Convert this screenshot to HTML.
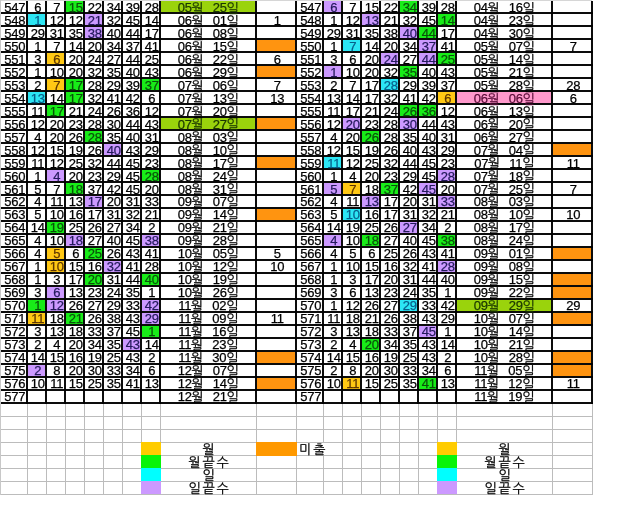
<!DOCTYPE html>
<html lang="ko"><head><meta charset="utf-8"><title>로또 당첨번호 분석</title>
<style>
html,body{margin:0;padding:0;background:#fff}
body{width:640px;height:512px;overflow:hidden;position:relative}
svg{position:absolute;left:0;top:0}
#t{position:absolute;left:0;top:0;width:640px;height:10px;transform-origin:0 0}
.n{position:absolute;height:13px;line-height:13px;font-family:"Liberation Sans","NanumGothic","Noto Sans CJK KR",sans-serif;font-size:13px;color:#000;text-align:center;white-space:nowrap;overflow:visible;letter-spacing:-0.3px;-webkit-text-stroke:0.25px}
.d{word-spacing:3.8px}
.d span{font-size:13px;letter-spacing:1.8px;position:relative;top:0.8px}
.k{font-size:13px;letter-spacing:1.8px}
</style></head><body>
<svg width="640" height="512" viewBox="0 0 640 512">
<rect x="65.8" y="0.8" width="17.4" height="11.4" fill="#18ec18"/>
<rect x="160.8" y="0.8" width="94.4" height="11.4" fill="#9ad30c"/>
<rect x="27.8" y="13.8" width="17.4" height="11.4" fill="#2ce6f4"/>
<rect x="84.8" y="13.8" width="17.4" height="11.4" fill="#cc99ff"/>
<rect x="84.8" y="26.8" width="17.4" height="11.4" fill="#cc99ff"/>
<rect x="256.8" y="39.8" width="38.4" height="11.4" fill="#ff9410"/>
<rect x="46.8" y="52.8" width="17.4" height="11.4" fill="#ffc814"/>
<rect x="256.8" y="65.8" width="38.4" height="11.4" fill="#ff9410"/>
<rect x="46.8" y="78.8" width="17.4" height="11.4" fill="#ffc814"/>
<rect x="65.8" y="78.8" width="17.4" height="11.4" fill="#18ec18"/>
<rect x="141.8" y="78.8" width="17.4" height="11.4" fill="#18ec18"/>
<rect x="27.8" y="91.8" width="17.4" height="11.4" fill="#2ce6f4"/>
<rect x="65.8" y="91.8" width="17.4" height="11.4" fill="#18ec18"/>
<rect x="46.8" y="104.8" width="17.4" height="11.4" fill="#18ec18"/>
<rect x="160.8" y="117.8" width="94.4" height="11.4" fill="#9ad30c"/>
<rect x="256.8" y="117.8" width="38.4" height="11.4" fill="#ff9410"/>
<rect x="84.8" y="130.8" width="17.4" height="11.4" fill="#18ec18"/>
<rect x="103.8" y="143.8" width="17.4" height="11.4" fill="#cc99ff"/>
<rect x="256.8" y="156.8" width="38.4" height="11.4" fill="#ff9410"/>
<rect x="46.8" y="169.8" width="17.4" height="11.4" fill="#cc99ff"/>
<rect x="141.8" y="169.8" width="17.4" height="11.4" fill="#18ec18"/>
<rect x="65.8" y="182.8" width="17.4" height="11.4" fill="#18ec18"/>
<rect x="84.8" y="195.8" width="17.4" height="11.4" fill="#cc99ff"/>
<rect x="256.8" y="208.8" width="38.4" height="11.4" fill="#ff9410"/>
<rect x="46.8" y="221.8" width="17.4" height="11.4" fill="#18ec18"/>
<rect x="65.8" y="234.8" width="17.4" height="11.4" fill="#cc99ff"/>
<rect x="141.8" y="234.8" width="17.4" height="11.4" fill="#cc99ff"/>
<rect x="46.8" y="247.8" width="17.4" height="11.4" fill="#ffc814"/>
<rect x="84.8" y="247.8" width="17.4" height="11.4" fill="#18ec18"/>
<rect x="46.8" y="260.8" width="17.4" height="11.4" fill="#ffc814"/>
<rect x="103.8" y="260.8" width="17.4" height="11.4" fill="#cc99ff"/>
<rect x="84.8" y="273.8" width="17.4" height="11.4" fill="#18ec18"/>
<rect x="141.8" y="273.8" width="17.4" height="11.4" fill="#18ec18"/>
<rect x="46.8" y="286.8" width="17.4" height="11.4" fill="#cc99ff"/>
<rect x="27.8" y="299.8" width="17.4" height="11.4" fill="#18ec18"/>
<rect x="46.8" y="299.8" width="17.4" height="11.4" fill="#cc99ff"/>
<rect x="141.8" y="299.8" width="17.4" height="11.4" fill="#cc99ff"/>
<rect x="27.8" y="312.8" width="17.4" height="11.4" fill="#ffc814"/>
<rect x="65.8" y="312.8" width="17.4" height="11.4" fill="#18ec18"/>
<rect x="141.8" y="312.8" width="17.4" height="11.4" fill="#cc99ff"/>
<rect x="141.8" y="325.8" width="17.4" height="11.4" fill="#18ec18"/>
<rect x="122.8" y="338.8" width="17.4" height="11.4" fill="#cc99ff"/>
<rect x="256.8" y="351.8" width="38.4" height="11.4" fill="#ff9410"/>
<rect x="27.8" y="364.8" width="17.4" height="11.4" fill="#cc99ff"/>
<rect x="256.8" y="377.8" width="38.4" height="11.4" fill="#ff9410"/>
<rect x="323.8" y="0.8" width="17.4" height="11.4" fill="#cc99ff"/>
<rect x="399.8" y="0.8" width="17.4" height="11.4" fill="#18ec18"/>
<rect x="361.8" y="13.8" width="17.4" height="11.4" fill="#cc99ff"/>
<rect x="437.8" y="13.8" width="17.4" height="11.4" fill="#18ec18"/>
<rect x="399.8" y="26.8" width="17.4" height="11.4" fill="#cc99ff"/>
<rect x="418.8" y="26.8" width="17.4" height="11.4" fill="#18ec18"/>
<rect x="342.8" y="39.8" width="17.4" height="11.4" fill="#2ce6f4"/>
<rect x="418.8" y="39.8" width="17.4" height="11.4" fill="#cc99ff"/>
<rect x="380.8" y="52.8" width="17.4" height="11.4" fill="#cc99ff"/>
<rect x="418.8" y="52.8" width="17.4" height="11.4" fill="#cc99ff"/>
<rect x="437.8" y="52.8" width="17.4" height="11.4" fill="#18ec18"/>
<rect x="323.8" y="65.8" width="17.4" height="11.4" fill="#cc99ff"/>
<rect x="399.8" y="65.8" width="17.4" height="11.4" fill="#18ec18"/>
<rect x="380.8" y="78.8" width="17.4" height="11.4" fill="#2ce6f4"/>
<rect x="437.8" y="91.8" width="17.4" height="11.4" fill="#ffc814"/>
<rect x="456.8" y="91.8" width="94.4" height="11.4" fill="#ff99cc"/>
<rect x="399.8" y="104.8" width="17.4" height="11.4" fill="#18ec18"/>
<rect x="418.8" y="104.8" width="17.4" height="11.4" fill="#18ec18"/>
<rect x="342.8" y="117.8" width="17.4" height="11.4" fill="#cc99ff"/>
<rect x="399.8" y="117.8" width="17.4" height="11.4" fill="#cc99ff"/>
<rect x="361.8" y="130.8" width="17.4" height="11.4" fill="#18ec18"/>
<rect x="552.8" y="143.8" width="38.4" height="11.4" fill="#ff9410"/>
<rect x="323.8" y="156.8" width="17.4" height="11.4" fill="#2ce6f4"/>
<rect x="437.8" y="169.8" width="17.4" height="11.4" fill="#cc99ff"/>
<rect x="323.8" y="182.8" width="17.4" height="11.4" fill="#cc99ff"/>
<rect x="342.8" y="182.8" width="17.4" height="11.4" fill="#ffc814"/>
<rect x="380.8" y="182.8" width="17.4" height="11.4" fill="#18ec18"/>
<rect x="418.8" y="182.8" width="17.4" height="11.4" fill="#cc99ff"/>
<rect x="361.8" y="195.8" width="17.4" height="11.4" fill="#cc99ff"/>
<rect x="437.8" y="195.8" width="17.4" height="11.4" fill="#cc99ff"/>
<rect x="342.8" y="208.8" width="17.4" height="11.4" fill="#2ce6f4"/>
<rect x="399.8" y="221.8" width="17.4" height="11.4" fill="#cc99ff"/>
<rect x="323.8" y="234.8" width="17.4" height="11.4" fill="#cc99ff"/>
<rect x="361.8" y="234.8" width="17.4" height="11.4" fill="#18ec18"/>
<rect x="437.8" y="234.8" width="17.4" height="11.4" fill="#18ec18"/>
<rect x="552.8" y="247.8" width="38.4" height="11.4" fill="#ff9410"/>
<rect x="437.8" y="260.8" width="17.4" height="11.4" fill="#cc99ff"/>
<rect x="552.8" y="273.8" width="38.4" height="11.4" fill="#ff9410"/>
<rect x="552.8" y="286.8" width="38.4" height="11.4" fill="#ff9410"/>
<rect x="399.8" y="299.8" width="17.4" height="11.4" fill="#2ce6f4"/>
<rect x="456.8" y="299.8" width="94.4" height="11.4" fill="#9ad30c"/>
<rect x="552.8" y="312.8" width="38.4" height="11.4" fill="#ff9410"/>
<rect x="418.8" y="325.8" width="17.4" height="11.4" fill="#cc99ff"/>
<rect x="361.8" y="338.8" width="17.4" height="11.4" fill="#18ec18"/>
<rect x="552.8" y="351.8" width="38.4" height="11.4" fill="#ff9410"/>
<rect x="552.8" y="364.8" width="38.4" height="11.4" fill="#ff9410"/>
<rect x="342.8" y="377.8" width="17.4" height="11.4" fill="#ffc814"/>
<rect x="418.8" y="377.8" width="17.4" height="11.4" fill="#18ec18"/>
<rect x="0" y="416" width="593" height="1" fill="#bcbcbc"/>
<rect x="0" y="429" width="593" height="1" fill="#bcbcbc"/>
<rect x="0" y="442" width="593" height="1" fill="#bcbcbc"/>
<rect x="0" y="455" width="593" height="1" fill="#bcbcbc"/>
<rect x="0" y="468" width="593" height="1" fill="#bcbcbc"/>
<rect x="0" y="481" width="593" height="1" fill="#bcbcbc"/>
<rect x="0" y="494" width="593" height="1" fill="#bcbcbc"/>
<rect x="0" y="404" width="1" height="90" fill="#bcbcbc"/>
<rect x="27" y="404" width="1" height="90" fill="#bcbcbc"/>
<rect x="46" y="404" width="1" height="90" fill="#bcbcbc"/>
<rect x="65" y="404" width="1" height="90" fill="#bcbcbc"/>
<rect x="84" y="404" width="1" height="90" fill="#bcbcbc"/>
<rect x="103" y="404" width="1" height="90" fill="#bcbcbc"/>
<rect x="122" y="404" width="1" height="90" fill="#bcbcbc"/>
<rect x="141" y="404" width="1" height="90" fill="#bcbcbc"/>
<rect x="160" y="404" width="1" height="90" fill="#bcbcbc"/>
<rect x="256" y="404" width="1" height="90" fill="#bcbcbc"/>
<rect x="296" y="404" width="1" height="90" fill="#bcbcbc"/>
<rect x="323" y="404" width="1" height="90" fill="#bcbcbc"/>
<rect x="342" y="404" width="1" height="90" fill="#bcbcbc"/>
<rect x="361" y="404" width="1" height="90" fill="#bcbcbc"/>
<rect x="380" y="404" width="1" height="90" fill="#bcbcbc"/>
<rect x="399" y="404" width="1" height="90" fill="#bcbcbc"/>
<rect x="418" y="404" width="1" height="90" fill="#bcbcbc"/>
<rect x="437" y="404" width="1" height="90" fill="#bcbcbc"/>
<rect x="456" y="404" width="1" height="90" fill="#bcbcbc"/>
<rect x="552" y="404" width="1" height="90" fill="#bcbcbc"/>
<rect x="592" y="404" width="1" height="90" fill="#bcbcbc"/>
<rect x="323" y="443" width="1" height="12" fill="#fff"/>
<rect x="141" y="442" width="20" height="13" fill="#ffcc00"/>
<rect x="141" y="455" width="20" height="13" fill="#08f408"/>
<rect x="141" y="468" width="20" height="13" fill="#00ffff"/>
<rect x="141" y="481" width="20" height="13" fill="#cc99ff"/>
<rect x="437" y="442" width="20" height="13" fill="#ffcc00"/>
<rect x="437" y="455" width="20" height="13" fill="#08f408"/>
<rect x="437" y="468" width="20" height="13" fill="#00ffff"/>
<rect x="437" y="481" width="20" height="13" fill="#cc99ff"/>
<rect x="256" y="442" width="41" height="14" fill="#ff9900"/>
<rect x="1" y="12.05" width="591.95" height="1.9" fill="#000"/>
<rect x="1" y="25.05" width="591.95" height="1.9" fill="#000"/>
<rect x="1" y="38.05" width="591.95" height="1.9" fill="#000"/>
<rect x="1" y="51.05" width="591.95" height="1.9" fill="#000"/>
<rect x="1" y="64.05" width="591.95" height="1.9" fill="#000"/>
<rect x="1" y="77.05" width="591.95" height="1.9" fill="#000"/>
<rect x="1" y="90.05" width="591.95" height="1.9" fill="#000"/>
<rect x="1" y="103.05" width="591.95" height="1.9" fill="#000"/>
<rect x="1" y="116.05" width="591.95" height="1.9" fill="#000"/>
<rect x="1" y="129.05" width="591.95" height="1.9" fill="#000"/>
<rect x="1" y="142.05" width="591.95" height="1.9" fill="#000"/>
<rect x="1" y="155.05" width="591.95" height="1.9" fill="#000"/>
<rect x="1" y="168.05" width="591.95" height="1.9" fill="#000"/>
<rect x="1" y="181.05" width="591.95" height="1.9" fill="#000"/>
<rect x="1" y="194.05" width="591.95" height="1.9" fill="#000"/>
<rect x="1" y="207.05" width="591.95" height="1.9" fill="#000"/>
<rect x="1" y="220.05" width="591.95" height="1.9" fill="#000"/>
<rect x="1" y="233.05" width="591.95" height="1.9" fill="#000"/>
<rect x="1" y="246.05" width="591.95" height="1.9" fill="#000"/>
<rect x="1" y="259.05" width="591.95" height="1.9" fill="#000"/>
<rect x="1" y="272.05" width="591.95" height="1.9" fill="#000"/>
<rect x="1" y="285.05" width="591.95" height="1.9" fill="#000"/>
<rect x="1" y="298.05" width="591.95" height="1.9" fill="#000"/>
<rect x="1" y="311.05" width="591.95" height="1.9" fill="#000"/>
<rect x="1" y="324.05" width="591.95" height="1.9" fill="#000"/>
<rect x="1" y="337.05" width="591.95" height="1.9" fill="#000"/>
<rect x="1" y="350.05" width="591.95" height="1.9" fill="#000"/>
<rect x="1" y="363.05" width="591.95" height="1.9" fill="#000"/>
<rect x="1" y="376.05" width="591.95" height="1.9" fill="#000"/>
<rect x="1" y="389.05" width="591.95" height="1.9" fill="#000"/>
<rect x="1" y="402.05" width="591.95" height="1.9" fill="#000"/>
<rect x="26.05" y="1" width="1.9" height="402.95" fill="#000"/>
<rect x="45.05" y="1" width="1.9" height="402.95" fill="#000"/>
<rect x="64.05" y="1" width="1.9" height="402.95" fill="#000"/>
<rect x="83.05" y="1" width="1.9" height="402.95" fill="#000"/>
<rect x="102.05" y="1" width="1.9" height="402.95" fill="#000"/>
<rect x="121.05" y="1" width="1.9" height="402.95" fill="#000"/>
<rect x="140.05" y="1" width="1.9" height="402.95" fill="#000"/>
<rect x="159.05" y="1" width="1.9" height="402.95" fill="#000"/>
<rect x="255.05" y="1" width="1.9" height="402.95" fill="#000"/>
<rect x="295.05" y="1" width="1.9" height="402.95" fill="#000"/>
<rect x="322.05" y="1" width="1.9" height="402.95" fill="#000"/>
<rect x="341.05" y="1" width="1.9" height="402.95" fill="#000"/>
<rect x="360.05" y="1" width="1.9" height="402.95" fill="#000"/>
<rect x="379.05" y="1" width="1.9" height="402.95" fill="#000"/>
<rect x="398.05" y="1" width="1.9" height="402.95" fill="#000"/>
<rect x="417.05" y="1" width="1.9" height="402.95" fill="#000"/>
<rect x="436.05" y="1" width="1.9" height="402.95" fill="#000"/>
<rect x="455.05" y="1" width="1.9" height="402.95" fill="#000"/>
<rect x="551.05" y="1" width="1.9" height="402.95" fill="#000"/>
<rect x="591.05" y="1" width="1.9" height="402.95" fill="#000"/>
<rect x="0" y="0" width="592" height="1" fill="#d6d6d6"/>
<rect x="0" y="0" width="1" height="495" fill="#c8c8c8"/>
</svg>
<div id="t">
<div class="n" style="left:1.7px;width:26px;top:1.00px">547</div>
<div class="n" style="left:28.7px;width:18px;top:1.00px">6</div>
<div class="n" style="left:47.7px;width:18px;top:1.00px">7</div>
<div class="n" style="left:66.7px;width:18px;color:#0a520a;top:1.00px">15</div>
<div class="n" style="left:85.7px;width:18px;top:1.00px">22</div>
<div class="n" style="left:104.7px;width:18px;top:1.00px">34</div>
<div class="n" style="left:123.7px;width:18px;top:1.00px">39</div>
<div class="n" style="left:142.7px;width:18px;top:1.00px">28</div>
<div class="n d" style="left:161.7px;width:95px;color:#1c3800;top:1.00px">05<span>월</span> 25<span>일</span></div>
<div class="n" style="left:1.7px;width:26px;top:13.96px">548</div>
<div class="n" style="left:28.7px;width:18px;color:#085f8a;top:13.96px">1</div>
<div class="n" style="left:47.7px;width:18px;top:13.96px">12</div>
<div class="n" style="left:66.7px;width:18px;top:13.96px">12</div>
<div class="n" style="left:85.7px;width:18px;color:#241a5c;top:13.96px">21</div>
<div class="n" style="left:104.7px;width:18px;top:13.96px">32</div>
<div class="n" style="left:123.7px;width:18px;top:13.96px">45</div>
<div class="n" style="left:142.7px;width:18px;top:13.96px">14</div>
<div class="n d" style="left:161.7px;width:95px;top:13.96px">06<span>월</span> 01<span>일</span></div>
<div class="n" style="left:257.7px;width:39px;top:13.96px">1</div>
<div class="n" style="left:1.7px;width:26px;top:26.93px">549</div>
<div class="n" style="left:28.7px;width:18px;top:26.93px">29</div>
<div class="n" style="left:47.7px;width:18px;top:26.93px">31</div>
<div class="n" style="left:66.7px;width:18px;top:26.93px">35</div>
<div class="n" style="left:85.7px;width:18px;color:#241a5c;top:26.93px">38</div>
<div class="n" style="left:104.7px;width:18px;top:26.93px">40</div>
<div class="n" style="left:123.7px;width:18px;top:26.93px">44</div>
<div class="n" style="left:142.7px;width:18px;top:26.93px">17</div>
<div class="n d" style="left:161.7px;width:95px;top:26.93px">06<span>월</span> 08<span>일</span></div>
<div class="n" style="left:1.7px;width:26px;top:39.90px">550</div>
<div class="n" style="left:28.7px;width:18px;top:39.90px">1</div>
<div class="n" style="left:47.7px;width:18px;top:39.90px">7</div>
<div class="n" style="left:66.7px;width:18px;top:39.90px">14</div>
<div class="n" style="left:85.7px;width:18px;top:39.90px">20</div>
<div class="n" style="left:104.7px;width:18px;top:39.90px">34</div>
<div class="n" style="left:123.7px;width:18px;top:39.90px">37</div>
<div class="n" style="left:142.7px;width:18px;top:39.90px">41</div>
<div class="n d" style="left:161.7px;width:95px;top:39.90px">06<span>월</span> 15<span>일</span></div>
<div class="n" style="left:1.7px;width:26px;top:52.86px">551</div>
<div class="n" style="left:28.7px;width:18px;top:52.86px">3</div>
<div class="n" style="left:47.7px;width:18px;color:#5e3600;top:52.86px">6</div>
<div class="n" style="left:66.7px;width:18px;top:52.86px">20</div>
<div class="n" style="left:85.7px;width:18px;top:52.86px">24</div>
<div class="n" style="left:104.7px;width:18px;top:52.86px">27</div>
<div class="n" style="left:123.7px;width:18px;top:52.86px">44</div>
<div class="n" style="left:142.7px;width:18px;top:52.86px">25</div>
<div class="n d" style="left:161.7px;width:95px;top:52.86px">06<span>월</span> 22<span>일</span></div>
<div class="n" style="left:257.7px;width:39px;top:52.86px">6</div>
<div class="n" style="left:1.7px;width:26px;top:65.83px">552</div>
<div class="n" style="left:28.7px;width:18px;top:65.83px">1</div>
<div class="n" style="left:47.7px;width:18px;top:65.83px">10</div>
<div class="n" style="left:66.7px;width:18px;top:65.83px">20</div>
<div class="n" style="left:85.7px;width:18px;top:65.83px">32</div>
<div class="n" style="left:104.7px;width:18px;top:65.83px">35</div>
<div class="n" style="left:123.7px;width:18px;top:65.83px">40</div>
<div class="n" style="left:142.7px;width:18px;top:65.83px">43</div>
<div class="n d" style="left:161.7px;width:95px;top:65.83px">06<span>월</span> 29<span>일</span></div>
<div class="n" style="left:1.7px;width:26px;top:78.79px">553</div>
<div class="n" style="left:28.7px;width:18px;top:78.79px">2</div>
<div class="n" style="left:47.7px;width:18px;color:#5e3600;top:78.79px">7</div>
<div class="n" style="left:66.7px;width:18px;color:#0a520a;top:78.79px">17</div>
<div class="n" style="left:85.7px;width:18px;top:78.79px">28</div>
<div class="n" style="left:104.7px;width:18px;top:78.79px">29</div>
<div class="n" style="left:123.7px;width:18px;top:78.79px">39</div>
<div class="n" style="left:142.7px;width:18px;color:#0a520a;top:78.79px">37</div>
<div class="n d" style="left:161.7px;width:95px;top:78.79px">07<span>월</span> 06<span>일</span></div>
<div class="n" style="left:257.7px;width:39px;top:78.79px">7</div>
<div class="n" style="left:1.7px;width:26px;top:91.75px">554</div>
<div class="n" style="left:28.7px;width:18px;color:#085f8a;top:91.75px">13</div>
<div class="n" style="left:47.7px;width:18px;top:91.75px">14</div>
<div class="n" style="left:66.7px;width:18px;color:#0a520a;top:91.75px">17</div>
<div class="n" style="left:85.7px;width:18px;top:91.75px">32</div>
<div class="n" style="left:104.7px;width:18px;top:91.75px">41</div>
<div class="n" style="left:123.7px;width:18px;top:91.75px">42</div>
<div class="n" style="left:142.7px;width:18px;top:91.75px">6</div>
<div class="n d" style="left:161.7px;width:95px;top:91.75px">07<span>월</span> 13<span>일</span></div>
<div class="n" style="left:257.7px;width:39px;top:91.75px">13</div>
<div class="n" style="left:1.7px;width:26px;top:104.72px">555</div>
<div class="n" style="left:28.7px;width:18px;top:104.72px">11</div>
<div class="n" style="left:47.7px;width:18px;color:#0a520a;top:104.72px">17</div>
<div class="n" style="left:66.7px;width:18px;top:104.72px">21</div>
<div class="n" style="left:85.7px;width:18px;top:104.72px">24</div>
<div class="n" style="left:104.7px;width:18px;top:104.72px">26</div>
<div class="n" style="left:123.7px;width:18px;top:104.72px">36</div>
<div class="n" style="left:142.7px;width:18px;top:104.72px">12</div>
<div class="n d" style="left:161.7px;width:95px;top:104.72px">07<span>월</span> 20<span>일</span></div>
<div class="n" style="left:1.7px;width:26px;top:117.69px">556</div>
<div class="n" style="left:28.7px;width:18px;top:117.69px">12</div>
<div class="n" style="left:47.7px;width:18px;top:117.69px">20</div>
<div class="n" style="left:66.7px;width:18px;top:117.69px">23</div>
<div class="n" style="left:85.7px;width:18px;top:117.69px">28</div>
<div class="n" style="left:104.7px;width:18px;top:117.69px">30</div>
<div class="n" style="left:123.7px;width:18px;top:117.69px">44</div>
<div class="n" style="left:142.7px;width:18px;top:117.69px">43</div>
<div class="n d" style="left:161.7px;width:95px;color:#1c3800;top:117.69px">07<span>월</span> 27<span>일</span></div>
<div class="n" style="left:1.7px;width:26px;top:130.65px">557</div>
<div class="n" style="left:28.7px;width:18px;top:130.65px">4</div>
<div class="n" style="left:47.7px;width:18px;top:130.65px">20</div>
<div class="n" style="left:66.7px;width:18px;top:130.65px">26</div>
<div class="n" style="left:85.7px;width:18px;color:#0a520a;top:130.65px">28</div>
<div class="n" style="left:104.7px;width:18px;top:130.65px">35</div>
<div class="n" style="left:123.7px;width:18px;top:130.65px">40</div>
<div class="n" style="left:142.7px;width:18px;top:130.65px">31</div>
<div class="n d" style="left:161.7px;width:95px;top:130.65px">08<span>월</span> 03<span>일</span></div>
<div class="n" style="left:1.7px;width:26px;top:143.62px">558</div>
<div class="n" style="left:28.7px;width:18px;top:143.62px">12</div>
<div class="n" style="left:47.7px;width:18px;top:143.62px">15</div>
<div class="n" style="left:66.7px;width:18px;top:143.62px">19</div>
<div class="n" style="left:85.7px;width:18px;top:143.62px">26</div>
<div class="n" style="left:104.7px;width:18px;color:#241a5c;top:143.62px">40</div>
<div class="n" style="left:123.7px;width:18px;top:143.62px">43</div>
<div class="n" style="left:142.7px;width:18px;top:143.62px">29</div>
<div class="n d" style="left:161.7px;width:95px;top:143.62px">08<span>월</span> 10<span>일</span></div>
<div class="n" style="left:1.7px;width:26px;top:156.58px">559</div>
<div class="n" style="left:28.7px;width:18px;top:156.58px">11</div>
<div class="n" style="left:47.7px;width:18px;top:156.58px">12</div>
<div class="n" style="left:66.7px;width:18px;top:156.58px">25</div>
<div class="n" style="left:85.7px;width:18px;top:156.58px">32</div>
<div class="n" style="left:104.7px;width:18px;top:156.58px">44</div>
<div class="n" style="left:123.7px;width:18px;top:156.58px">45</div>
<div class="n" style="left:142.7px;width:18px;top:156.58px">23</div>
<div class="n d" style="left:161.7px;width:95px;top:156.58px">08<span>월</span> 17<span>일</span></div>
<div class="n" style="left:1.7px;width:26px;top:169.54px">560</div>
<div class="n" style="left:28.7px;width:18px;top:169.54px">1</div>
<div class="n" style="left:47.7px;width:18px;color:#241a5c;top:169.54px">4</div>
<div class="n" style="left:66.7px;width:18px;top:169.54px">20</div>
<div class="n" style="left:85.7px;width:18px;top:169.54px">23</div>
<div class="n" style="left:104.7px;width:18px;top:169.54px">29</div>
<div class="n" style="left:123.7px;width:18px;top:169.54px">45</div>
<div class="n" style="left:142.7px;width:18px;color:#0a520a;top:169.54px">28</div>
<div class="n d" style="left:161.7px;width:95px;top:169.54px">08<span>월</span> 24<span>일</span></div>
<div class="n" style="left:1.7px;width:26px;top:182.51px">561</div>
<div class="n" style="left:28.7px;width:18px;top:182.51px">5</div>
<div class="n" style="left:47.7px;width:18px;top:182.51px">7</div>
<div class="n" style="left:66.7px;width:18px;color:#0a520a;top:182.51px">18</div>
<div class="n" style="left:85.7px;width:18px;top:182.51px">37</div>
<div class="n" style="left:104.7px;width:18px;top:182.51px">42</div>
<div class="n" style="left:123.7px;width:18px;top:182.51px">45</div>
<div class="n" style="left:142.7px;width:18px;top:182.51px">20</div>
<div class="n d" style="left:161.7px;width:95px;top:182.51px">08<span>월</span> 31<span>일</span></div>
<div class="n" style="left:1.7px;width:26px;top:195.47px">562</div>
<div class="n" style="left:28.7px;width:18px;top:195.47px">4</div>
<div class="n" style="left:47.7px;width:18px;top:195.47px">11</div>
<div class="n" style="left:66.7px;width:18px;top:195.47px">13</div>
<div class="n" style="left:85.7px;width:18px;color:#241a5c;top:195.47px">17</div>
<div class="n" style="left:104.7px;width:18px;top:195.47px">20</div>
<div class="n" style="left:123.7px;width:18px;top:195.47px">31</div>
<div class="n" style="left:142.7px;width:18px;top:195.47px">33</div>
<div class="n d" style="left:161.7px;width:95px;top:195.47px">09<span>월</span> 07<span>일</span></div>
<div class="n" style="left:1.7px;width:26px;top:208.44px">563</div>
<div class="n" style="left:28.7px;width:18px;top:208.44px">5</div>
<div class="n" style="left:47.7px;width:18px;top:208.44px">10</div>
<div class="n" style="left:66.7px;width:18px;top:208.44px">16</div>
<div class="n" style="left:85.7px;width:18px;top:208.44px">17</div>
<div class="n" style="left:104.7px;width:18px;top:208.44px">31</div>
<div class="n" style="left:123.7px;width:18px;top:208.44px">32</div>
<div class="n" style="left:142.7px;width:18px;top:208.44px">21</div>
<div class="n d" style="left:161.7px;width:95px;top:208.44px">09<span>월</span> 14<span>일</span></div>
<div class="n" style="left:1.7px;width:26px;top:221.41px">564</div>
<div class="n" style="left:28.7px;width:18px;top:221.41px">14</div>
<div class="n" style="left:47.7px;width:18px;color:#0a520a;top:221.41px">19</div>
<div class="n" style="left:66.7px;width:18px;top:221.41px">25</div>
<div class="n" style="left:85.7px;width:18px;top:221.41px">26</div>
<div class="n" style="left:104.7px;width:18px;top:221.41px">27</div>
<div class="n" style="left:123.7px;width:18px;top:221.41px">34</div>
<div class="n" style="left:142.7px;width:18px;top:221.41px">2</div>
<div class="n d" style="left:161.7px;width:95px;top:221.41px">09<span>월</span> 21<span>일</span></div>
<div class="n" style="left:1.7px;width:26px;top:234.37px">565</div>
<div class="n" style="left:28.7px;width:18px;top:234.37px">4</div>
<div class="n" style="left:47.7px;width:18px;top:234.37px">10</div>
<div class="n" style="left:66.7px;width:18px;color:#241a5c;top:234.37px">18</div>
<div class="n" style="left:85.7px;width:18px;top:234.37px">27</div>
<div class="n" style="left:104.7px;width:18px;top:234.37px">40</div>
<div class="n" style="left:123.7px;width:18px;top:234.37px">45</div>
<div class="n" style="left:142.7px;width:18px;color:#241a5c;top:234.37px">38</div>
<div class="n d" style="left:161.7px;width:95px;top:234.37px">09<span>월</span> 28<span>일</span></div>
<div class="n" style="left:1.7px;width:26px;top:247.34px">566</div>
<div class="n" style="left:28.7px;width:18px;top:247.34px">4</div>
<div class="n" style="left:47.7px;width:18px;color:#5e3600;top:247.34px">5</div>
<div class="n" style="left:66.7px;width:18px;top:247.34px">6</div>
<div class="n" style="left:85.7px;width:18px;color:#0a520a;top:247.34px">25</div>
<div class="n" style="left:104.7px;width:18px;top:247.34px">26</div>
<div class="n" style="left:123.7px;width:18px;top:247.34px">43</div>
<div class="n" style="left:142.7px;width:18px;top:247.34px">41</div>
<div class="n d" style="left:161.7px;width:95px;top:247.34px">10<span>월</span> 05<span>일</span></div>
<div class="n" style="left:257.7px;width:39px;top:247.34px">5</div>
<div class="n" style="left:1.7px;width:26px;top:260.30px">567</div>
<div class="n" style="left:28.7px;width:18px;top:260.30px">1</div>
<div class="n" style="left:47.7px;width:18px;color:#5e3600;top:260.30px">10</div>
<div class="n" style="left:66.7px;width:18px;top:260.30px">15</div>
<div class="n" style="left:85.7px;width:18px;top:260.30px">16</div>
<div class="n" style="left:104.7px;width:18px;color:#241a5c;top:260.30px">32</div>
<div class="n" style="left:123.7px;width:18px;top:260.30px">41</div>
<div class="n" style="left:142.7px;width:18px;top:260.30px">28</div>
<div class="n d" style="left:161.7px;width:95px;top:260.30px">10<span>월</span> 12<span>일</span></div>
<div class="n" style="left:257.7px;width:39px;top:260.30px">10</div>
<div class="n" style="left:1.7px;width:26px;top:273.26px">568</div>
<div class="n" style="left:28.7px;width:18px;top:273.26px">1</div>
<div class="n" style="left:47.7px;width:18px;top:273.26px">3</div>
<div class="n" style="left:66.7px;width:18px;top:273.26px">17</div>
<div class="n" style="left:85.7px;width:18px;color:#0a520a;top:273.26px">20</div>
<div class="n" style="left:104.7px;width:18px;top:273.26px">31</div>
<div class="n" style="left:123.7px;width:18px;top:273.26px">44</div>
<div class="n" style="left:142.7px;width:18px;color:#0a520a;top:273.26px">40</div>
<div class="n d" style="left:161.7px;width:95px;top:273.26px">10<span>월</span> 19<span>일</span></div>
<div class="n" style="left:1.7px;width:26px;top:286.23px">569</div>
<div class="n" style="left:28.7px;width:18px;top:286.23px">3</div>
<div class="n" style="left:47.7px;width:18px;color:#241a5c;top:286.23px">6</div>
<div class="n" style="left:66.7px;width:18px;top:286.23px">13</div>
<div class="n" style="left:85.7px;width:18px;top:286.23px">23</div>
<div class="n" style="left:104.7px;width:18px;top:286.23px">24</div>
<div class="n" style="left:123.7px;width:18px;top:286.23px">35</div>
<div class="n" style="left:142.7px;width:18px;top:286.23px">1</div>
<div class="n d" style="left:161.7px;width:95px;top:286.23px">10<span>월</span> 26<span>일</span></div>
<div class="n" style="left:1.7px;width:26px;top:299.19px">570</div>
<div class="n" style="left:28.7px;width:18px;color:#0a520a;top:299.19px">1</div>
<div class="n" style="left:47.7px;width:18px;color:#241a5c;top:299.19px">12</div>
<div class="n" style="left:66.7px;width:18px;top:299.19px">26</div>
<div class="n" style="left:85.7px;width:18px;top:299.19px">27</div>
<div class="n" style="left:104.7px;width:18px;top:299.19px">29</div>
<div class="n" style="left:123.7px;width:18px;top:299.19px">33</div>
<div class="n" style="left:142.7px;width:18px;color:#241a5c;top:299.19px">42</div>
<div class="n d" style="left:161.7px;width:95px;top:299.19px">11<span>월</span> 02<span>일</span></div>
<div class="n" style="left:1.7px;width:26px;top:312.16px">571</div>
<div class="n" style="left:28.7px;width:18px;color:#5e3600;top:312.16px">11</div>
<div class="n" style="left:47.7px;width:18px;top:312.16px">18</div>
<div class="n" style="left:66.7px;width:18px;color:#0a520a;top:312.16px">21</div>
<div class="n" style="left:85.7px;width:18px;top:312.16px">26</div>
<div class="n" style="left:104.7px;width:18px;top:312.16px">38</div>
<div class="n" style="left:123.7px;width:18px;top:312.16px">43</div>
<div class="n" style="left:142.7px;width:18px;color:#241a5c;top:312.16px">29</div>
<div class="n d" style="left:161.7px;width:95px;top:312.16px">11<span>월</span> 09<span>일</span></div>
<div class="n" style="left:257.7px;width:39px;top:312.16px">11</div>
<div class="n" style="left:1.7px;width:26px;top:325.12px">572</div>
<div class="n" style="left:28.7px;width:18px;top:325.12px">3</div>
<div class="n" style="left:47.7px;width:18px;top:325.12px">13</div>
<div class="n" style="left:66.7px;width:18px;top:325.12px">18</div>
<div class="n" style="left:85.7px;width:18px;top:325.12px">33</div>
<div class="n" style="left:104.7px;width:18px;top:325.12px">37</div>
<div class="n" style="left:123.7px;width:18px;top:325.12px">45</div>
<div class="n" style="left:142.7px;width:18px;color:#0a520a;top:325.12px">1</div>
<div class="n d" style="left:161.7px;width:95px;top:325.12px">11<span>월</span> 16<span>일</span></div>
<div class="n" style="left:1.7px;width:26px;top:338.09px">573</div>
<div class="n" style="left:28.7px;width:18px;top:338.09px">2</div>
<div class="n" style="left:47.7px;width:18px;top:338.09px">4</div>
<div class="n" style="left:66.7px;width:18px;top:338.09px">20</div>
<div class="n" style="left:85.7px;width:18px;top:338.09px">34</div>
<div class="n" style="left:104.7px;width:18px;top:338.09px">35</div>
<div class="n" style="left:123.7px;width:18px;color:#241a5c;top:338.09px">43</div>
<div class="n" style="left:142.7px;width:18px;top:338.09px">14</div>
<div class="n d" style="left:161.7px;width:95px;top:338.09px">11<span>월</span> 23<span>일</span></div>
<div class="n" style="left:1.7px;width:26px;top:351.06px">574</div>
<div class="n" style="left:28.7px;width:18px;top:351.06px">14</div>
<div class="n" style="left:47.7px;width:18px;top:351.06px">15</div>
<div class="n" style="left:66.7px;width:18px;top:351.06px">16</div>
<div class="n" style="left:85.7px;width:18px;top:351.06px">19</div>
<div class="n" style="left:104.7px;width:18px;top:351.06px">25</div>
<div class="n" style="left:123.7px;width:18px;top:351.06px">43</div>
<div class="n" style="left:142.7px;width:18px;top:351.06px">2</div>
<div class="n d" style="left:161.7px;width:95px;top:351.06px">11<span>월</span> 30<span>일</span></div>
<div class="n" style="left:1.7px;width:26px;top:364.02px">575</div>
<div class="n" style="left:28.7px;width:18px;color:#241a5c;top:364.02px">2</div>
<div class="n" style="left:47.7px;width:18px;top:364.02px">8</div>
<div class="n" style="left:66.7px;width:18px;top:364.02px">20</div>
<div class="n" style="left:85.7px;width:18px;top:364.02px">30</div>
<div class="n" style="left:104.7px;width:18px;top:364.02px">33</div>
<div class="n" style="left:123.7px;width:18px;top:364.02px">34</div>
<div class="n" style="left:142.7px;width:18px;top:364.02px">6</div>
<div class="n d" style="left:161.7px;width:95px;top:364.02px">12<span>월</span> 07<span>일</span></div>
<div class="n" style="left:1.7px;width:26px;top:376.99px">576</div>
<div class="n" style="left:28.7px;width:18px;top:376.99px">10</div>
<div class="n" style="left:47.7px;width:18px;top:376.99px">11</div>
<div class="n" style="left:66.7px;width:18px;top:376.99px">15</div>
<div class="n" style="left:85.7px;width:18px;top:376.99px">25</div>
<div class="n" style="left:104.7px;width:18px;top:376.99px">35</div>
<div class="n" style="left:123.7px;width:18px;top:376.99px">41</div>
<div class="n" style="left:142.7px;width:18px;top:376.99px">13</div>
<div class="n d" style="left:161.7px;width:95px;top:376.99px">12<span>월</span> 14<span>일</span></div>
<div class="n" style="left:1.7px;width:26px;top:389.95px">577</div>
<div class="n d" style="left:161.7px;width:95px;top:389.95px">12<span>월</span> 21<span>일</span></div>
<div class="n" style="left:297.7px;width:26px;top:1.00px">547</div>
<div class="n" style="left:324.7px;width:18px;color:#241a5c;top:1.00px">6</div>
<div class="n" style="left:343.7px;width:18px;top:1.00px">7</div>
<div class="n" style="left:362.7px;width:18px;top:1.00px">15</div>
<div class="n" style="left:381.7px;width:18px;top:1.00px">22</div>
<div class="n" style="left:400.7px;width:18px;color:#0a520a;top:1.00px">34</div>
<div class="n" style="left:419.7px;width:18px;top:1.00px">39</div>
<div class="n" style="left:438.7px;width:18px;top:1.00px">28</div>
<div class="n d" style="left:457.7px;width:95px;top:1.00px">04<span>월</span> 16<span>일</span></div>
<div class="n" style="left:297.7px;width:26px;top:13.96px">548</div>
<div class="n" style="left:324.7px;width:18px;top:13.96px">1</div>
<div class="n" style="left:343.7px;width:18px;top:13.96px">12</div>
<div class="n" style="left:362.7px;width:18px;color:#241a5c;top:13.96px">13</div>
<div class="n" style="left:381.7px;width:18px;top:13.96px">21</div>
<div class="n" style="left:400.7px;width:18px;top:13.96px">32</div>
<div class="n" style="left:419.7px;width:18px;top:13.96px">45</div>
<div class="n" style="left:438.7px;width:18px;color:#0a520a;top:13.96px">14</div>
<div class="n d" style="left:457.7px;width:95px;top:13.96px">04<span>월</span> 23<span>일</span></div>
<div class="n" style="left:297.7px;width:26px;top:26.93px">549</div>
<div class="n" style="left:324.7px;width:18px;top:26.93px">29</div>
<div class="n" style="left:343.7px;width:18px;top:26.93px">31</div>
<div class="n" style="left:362.7px;width:18px;top:26.93px">35</div>
<div class="n" style="left:381.7px;width:18px;top:26.93px">38</div>
<div class="n" style="left:400.7px;width:18px;color:#241a5c;top:26.93px">40</div>
<div class="n" style="left:419.7px;width:18px;color:#0a520a;top:26.93px">44</div>
<div class="n" style="left:438.7px;width:18px;top:26.93px">17</div>
<div class="n d" style="left:457.7px;width:95px;top:26.93px">04<span>월</span> 30<span>일</span></div>
<div class="n" style="left:297.7px;width:26px;top:39.90px">550</div>
<div class="n" style="left:324.7px;width:18px;top:39.90px">1</div>
<div class="n" style="left:343.7px;width:18px;color:#085f8a;top:39.90px">7</div>
<div class="n" style="left:362.7px;width:18px;top:39.90px">14</div>
<div class="n" style="left:381.7px;width:18px;top:39.90px">20</div>
<div class="n" style="left:400.7px;width:18px;top:39.90px">34</div>
<div class="n" style="left:419.7px;width:18px;color:#241a5c;top:39.90px">37</div>
<div class="n" style="left:438.7px;width:18px;top:39.90px">41</div>
<div class="n d" style="left:457.7px;width:95px;top:39.90px">05<span>월</span> 07<span>일</span></div>
<div class="n" style="left:553.7px;width:39px;top:39.90px">7</div>
<div class="n" style="left:297.7px;width:26px;top:52.86px">551</div>
<div class="n" style="left:324.7px;width:18px;top:52.86px">3</div>
<div class="n" style="left:343.7px;width:18px;top:52.86px">6</div>
<div class="n" style="left:362.7px;width:18px;top:52.86px">20</div>
<div class="n" style="left:381.7px;width:18px;color:#241a5c;top:52.86px">24</div>
<div class="n" style="left:400.7px;width:18px;top:52.86px">27</div>
<div class="n" style="left:419.7px;width:18px;color:#241a5c;top:52.86px">44</div>
<div class="n" style="left:438.7px;width:18px;color:#0a520a;top:52.86px">25</div>
<div class="n d" style="left:457.7px;width:95px;top:52.86px">05<span>월</span> 14<span>일</span></div>
<div class="n" style="left:297.7px;width:26px;top:65.83px">552</div>
<div class="n" style="left:324.7px;width:18px;color:#241a5c;top:65.83px">1</div>
<div class="n" style="left:343.7px;width:18px;top:65.83px">10</div>
<div class="n" style="left:362.7px;width:18px;top:65.83px">20</div>
<div class="n" style="left:381.7px;width:18px;top:65.83px">32</div>
<div class="n" style="left:400.7px;width:18px;color:#0a520a;top:65.83px">35</div>
<div class="n" style="left:419.7px;width:18px;top:65.83px">40</div>
<div class="n" style="left:438.7px;width:18px;top:65.83px">43</div>
<div class="n d" style="left:457.7px;width:95px;top:65.83px">05<span>월</span> 21<span>일</span></div>
<div class="n" style="left:297.7px;width:26px;top:78.79px">553</div>
<div class="n" style="left:324.7px;width:18px;top:78.79px">2</div>
<div class="n" style="left:343.7px;width:18px;top:78.79px">7</div>
<div class="n" style="left:362.7px;width:18px;top:78.79px">17</div>
<div class="n" style="left:381.7px;width:18px;color:#085f8a;top:78.79px">28</div>
<div class="n" style="left:400.7px;width:18px;top:78.79px">29</div>
<div class="n" style="left:419.7px;width:18px;top:78.79px">39</div>
<div class="n" style="left:438.7px;width:18px;top:78.79px">37</div>
<div class="n d" style="left:457.7px;width:95px;top:78.79px">05<span>월</span> 28<span>일</span></div>
<div class="n" style="left:553.7px;width:39px;top:78.79px">28</div>
<div class="n" style="left:297.7px;width:26px;top:91.75px">554</div>
<div class="n" style="left:324.7px;width:18px;top:91.75px">13</div>
<div class="n" style="left:343.7px;width:18px;top:91.75px">14</div>
<div class="n" style="left:362.7px;width:18px;top:91.75px">17</div>
<div class="n" style="left:381.7px;width:18px;top:91.75px">32</div>
<div class="n" style="left:400.7px;width:18px;top:91.75px">41</div>
<div class="n" style="left:419.7px;width:18px;top:91.75px">42</div>
<div class="n" style="left:438.7px;width:18px;color:#5e3600;top:91.75px">6</div>
<div class="n d" style="left:457.7px;width:95px;color:#5a0c38;top:91.75px">06<span>월</span> 06<span>일</span></div>
<div class="n" style="left:553.7px;width:39px;top:91.75px">6</div>
<div class="n" style="left:297.7px;width:26px;top:104.72px">555</div>
<div class="n" style="left:324.7px;width:18px;top:104.72px">11</div>
<div class="n" style="left:343.7px;width:18px;top:104.72px">17</div>
<div class="n" style="left:362.7px;width:18px;top:104.72px">21</div>
<div class="n" style="left:381.7px;width:18px;top:104.72px">24</div>
<div class="n" style="left:400.7px;width:18px;color:#0a520a;top:104.72px">26</div>
<div class="n" style="left:419.7px;width:18px;color:#0a520a;top:104.72px">36</div>
<div class="n" style="left:438.7px;width:18px;top:104.72px">12</div>
<div class="n d" style="left:457.7px;width:95px;top:104.72px">06<span>월</span> 13<span>일</span></div>
<div class="n" style="left:297.7px;width:26px;top:117.69px">556</div>
<div class="n" style="left:324.7px;width:18px;top:117.69px">12</div>
<div class="n" style="left:343.7px;width:18px;color:#241a5c;top:117.69px">20</div>
<div class="n" style="left:362.7px;width:18px;top:117.69px">23</div>
<div class="n" style="left:381.7px;width:18px;top:117.69px">28</div>
<div class="n" style="left:400.7px;width:18px;color:#241a5c;top:117.69px">30</div>
<div class="n" style="left:419.7px;width:18px;top:117.69px">44</div>
<div class="n" style="left:438.7px;width:18px;top:117.69px">43</div>
<div class="n d" style="left:457.7px;width:95px;top:117.69px">06<span>월</span> 20<span>일</span></div>
<div class="n" style="left:297.7px;width:26px;top:130.65px">557</div>
<div class="n" style="left:324.7px;width:18px;top:130.65px">4</div>
<div class="n" style="left:343.7px;width:18px;top:130.65px">20</div>
<div class="n" style="left:362.7px;width:18px;color:#0a520a;top:130.65px">26</div>
<div class="n" style="left:381.7px;width:18px;top:130.65px">28</div>
<div class="n" style="left:400.7px;width:18px;top:130.65px">35</div>
<div class="n" style="left:419.7px;width:18px;top:130.65px">40</div>
<div class="n" style="left:438.7px;width:18px;top:130.65px">31</div>
<div class="n d" style="left:457.7px;width:95px;top:130.65px">06<span>월</span> 27<span>일</span></div>
<div class="n" style="left:297.7px;width:26px;top:143.62px">558</div>
<div class="n" style="left:324.7px;width:18px;top:143.62px">12</div>
<div class="n" style="left:343.7px;width:18px;top:143.62px">15</div>
<div class="n" style="left:362.7px;width:18px;top:143.62px">19</div>
<div class="n" style="left:381.7px;width:18px;top:143.62px">26</div>
<div class="n" style="left:400.7px;width:18px;top:143.62px">40</div>
<div class="n" style="left:419.7px;width:18px;top:143.62px">43</div>
<div class="n" style="left:438.7px;width:18px;top:143.62px">29</div>
<div class="n d" style="left:457.7px;width:95px;top:143.62px">07<span>월</span> 04<span>일</span></div>
<div class="n" style="left:297.7px;width:26px;top:156.58px">559</div>
<div class="n" style="left:324.7px;width:18px;color:#085f8a;top:156.58px">11</div>
<div class="n" style="left:343.7px;width:18px;top:156.58px">12</div>
<div class="n" style="left:362.7px;width:18px;top:156.58px">25</div>
<div class="n" style="left:381.7px;width:18px;top:156.58px">32</div>
<div class="n" style="left:400.7px;width:18px;top:156.58px">44</div>
<div class="n" style="left:419.7px;width:18px;top:156.58px">45</div>
<div class="n" style="left:438.7px;width:18px;top:156.58px">23</div>
<div class="n d" style="left:457.7px;width:95px;top:156.58px">07<span>월</span> 11<span>일</span></div>
<div class="n" style="left:553.7px;width:39px;top:156.58px">11</div>
<div class="n" style="left:297.7px;width:26px;top:169.54px">560</div>
<div class="n" style="left:324.7px;width:18px;top:169.54px">1</div>
<div class="n" style="left:343.7px;width:18px;top:169.54px">4</div>
<div class="n" style="left:362.7px;width:18px;top:169.54px">20</div>
<div class="n" style="left:381.7px;width:18px;top:169.54px">23</div>
<div class="n" style="left:400.7px;width:18px;top:169.54px">29</div>
<div class="n" style="left:419.7px;width:18px;top:169.54px">45</div>
<div class="n" style="left:438.7px;width:18px;color:#241a5c;top:169.54px">28</div>
<div class="n d" style="left:457.7px;width:95px;top:169.54px">07<span>월</span> 18<span>일</span></div>
<div class="n" style="left:297.7px;width:26px;top:182.51px">561</div>
<div class="n" style="left:324.7px;width:18px;color:#241a5c;top:182.51px">5</div>
<div class="n" style="left:343.7px;width:18px;color:#5e3600;top:182.51px">7</div>
<div class="n" style="left:362.7px;width:18px;top:182.51px">18</div>
<div class="n" style="left:381.7px;width:18px;color:#0a520a;top:182.51px">37</div>
<div class="n" style="left:400.7px;width:18px;top:182.51px">42</div>
<div class="n" style="left:419.7px;width:18px;color:#241a5c;top:182.51px">45</div>
<div class="n" style="left:438.7px;width:18px;top:182.51px">20</div>
<div class="n d" style="left:457.7px;width:95px;top:182.51px">07<span>월</span> 25<span>일</span></div>
<div class="n" style="left:553.7px;width:39px;top:182.51px">7</div>
<div class="n" style="left:297.7px;width:26px;top:195.47px">562</div>
<div class="n" style="left:324.7px;width:18px;top:195.47px">4</div>
<div class="n" style="left:343.7px;width:18px;top:195.47px">11</div>
<div class="n" style="left:362.7px;width:18px;color:#241a5c;top:195.47px">13</div>
<div class="n" style="left:381.7px;width:18px;top:195.47px">17</div>
<div class="n" style="left:400.7px;width:18px;top:195.47px">20</div>
<div class="n" style="left:419.7px;width:18px;top:195.47px">31</div>
<div class="n" style="left:438.7px;width:18px;color:#241a5c;top:195.47px">33</div>
<div class="n d" style="left:457.7px;width:95px;top:195.47px">08<span>월</span> 03<span>일</span></div>
<div class="n" style="left:297.7px;width:26px;top:208.44px">563</div>
<div class="n" style="left:324.7px;width:18px;top:208.44px">5</div>
<div class="n" style="left:343.7px;width:18px;color:#085f8a;top:208.44px">10</div>
<div class="n" style="left:362.7px;width:18px;top:208.44px">16</div>
<div class="n" style="left:381.7px;width:18px;top:208.44px">17</div>
<div class="n" style="left:400.7px;width:18px;top:208.44px">31</div>
<div class="n" style="left:419.7px;width:18px;top:208.44px">32</div>
<div class="n" style="left:438.7px;width:18px;top:208.44px">21</div>
<div class="n d" style="left:457.7px;width:95px;top:208.44px">08<span>월</span> 10<span>일</span></div>
<div class="n" style="left:553.7px;width:39px;top:208.44px">10</div>
<div class="n" style="left:297.7px;width:26px;top:221.41px">564</div>
<div class="n" style="left:324.7px;width:18px;top:221.41px">14</div>
<div class="n" style="left:343.7px;width:18px;top:221.41px">19</div>
<div class="n" style="left:362.7px;width:18px;top:221.41px">25</div>
<div class="n" style="left:381.7px;width:18px;top:221.41px">26</div>
<div class="n" style="left:400.7px;width:18px;color:#241a5c;top:221.41px">27</div>
<div class="n" style="left:419.7px;width:18px;top:221.41px">34</div>
<div class="n" style="left:438.7px;width:18px;top:221.41px">2</div>
<div class="n d" style="left:457.7px;width:95px;top:221.41px">08<span>월</span> 17<span>일</span></div>
<div class="n" style="left:297.7px;width:26px;top:234.37px">565</div>
<div class="n" style="left:324.7px;width:18px;color:#241a5c;top:234.37px">4</div>
<div class="n" style="left:343.7px;width:18px;top:234.37px">10</div>
<div class="n" style="left:362.7px;width:18px;color:#0a520a;top:234.37px">18</div>
<div class="n" style="left:381.7px;width:18px;top:234.37px">27</div>
<div class="n" style="left:400.7px;width:18px;top:234.37px">40</div>
<div class="n" style="left:419.7px;width:18px;top:234.37px">45</div>
<div class="n" style="left:438.7px;width:18px;color:#0a520a;top:234.37px">38</div>
<div class="n d" style="left:457.7px;width:95px;top:234.37px">08<span>월</span> 24<span>일</span></div>
<div class="n" style="left:297.7px;width:26px;top:247.34px">566</div>
<div class="n" style="left:324.7px;width:18px;top:247.34px">4</div>
<div class="n" style="left:343.7px;width:18px;top:247.34px">5</div>
<div class="n" style="left:362.7px;width:18px;top:247.34px">6</div>
<div class="n" style="left:381.7px;width:18px;top:247.34px">25</div>
<div class="n" style="left:400.7px;width:18px;top:247.34px">26</div>
<div class="n" style="left:419.7px;width:18px;top:247.34px">43</div>
<div class="n" style="left:438.7px;width:18px;top:247.34px">41</div>
<div class="n d" style="left:457.7px;width:95px;top:247.34px">09<span>월</span> 01<span>일</span></div>
<div class="n" style="left:297.7px;width:26px;top:260.30px">567</div>
<div class="n" style="left:324.7px;width:18px;top:260.30px">1</div>
<div class="n" style="left:343.7px;width:18px;top:260.30px">10</div>
<div class="n" style="left:362.7px;width:18px;top:260.30px">15</div>
<div class="n" style="left:381.7px;width:18px;top:260.30px">16</div>
<div class="n" style="left:400.7px;width:18px;top:260.30px">32</div>
<div class="n" style="left:419.7px;width:18px;top:260.30px">41</div>
<div class="n" style="left:438.7px;width:18px;color:#241a5c;top:260.30px">28</div>
<div class="n d" style="left:457.7px;width:95px;top:260.30px">09<span>월</span> 08<span>일</span></div>
<div class="n" style="left:297.7px;width:26px;top:273.26px">568</div>
<div class="n" style="left:324.7px;width:18px;top:273.26px">1</div>
<div class="n" style="left:343.7px;width:18px;top:273.26px">3</div>
<div class="n" style="left:362.7px;width:18px;top:273.26px">17</div>
<div class="n" style="left:381.7px;width:18px;top:273.26px">20</div>
<div class="n" style="left:400.7px;width:18px;top:273.26px">31</div>
<div class="n" style="left:419.7px;width:18px;top:273.26px">44</div>
<div class="n" style="left:438.7px;width:18px;top:273.26px">40</div>
<div class="n d" style="left:457.7px;width:95px;top:273.26px">09<span>월</span> 15<span>일</span></div>
<div class="n" style="left:297.7px;width:26px;top:286.23px">569</div>
<div class="n" style="left:324.7px;width:18px;top:286.23px">3</div>
<div class="n" style="left:343.7px;width:18px;top:286.23px">6</div>
<div class="n" style="left:362.7px;width:18px;top:286.23px">13</div>
<div class="n" style="left:381.7px;width:18px;top:286.23px">23</div>
<div class="n" style="left:400.7px;width:18px;top:286.23px">24</div>
<div class="n" style="left:419.7px;width:18px;top:286.23px">35</div>
<div class="n" style="left:438.7px;width:18px;top:286.23px">1</div>
<div class="n d" style="left:457.7px;width:95px;top:286.23px">09<span>월</span> 22<span>일</span></div>
<div class="n" style="left:297.7px;width:26px;top:299.19px">570</div>
<div class="n" style="left:324.7px;width:18px;top:299.19px">1</div>
<div class="n" style="left:343.7px;width:18px;top:299.19px">12</div>
<div class="n" style="left:362.7px;width:18px;top:299.19px">26</div>
<div class="n" style="left:381.7px;width:18px;top:299.19px">27</div>
<div class="n" style="left:400.7px;width:18px;color:#085f8a;top:299.19px">29</div>
<div class="n" style="left:419.7px;width:18px;top:299.19px">33</div>
<div class="n" style="left:438.7px;width:18px;top:299.19px">42</div>
<div class="n d" style="left:457.7px;width:95px;color:#1c3800;top:299.19px">09<span>월</span> 29<span>일</span></div>
<div class="n" style="left:553.7px;width:39px;top:299.19px">29</div>
<div class="n" style="left:297.7px;width:26px;top:312.16px">571</div>
<div class="n" style="left:324.7px;width:18px;top:312.16px">11</div>
<div class="n" style="left:343.7px;width:18px;top:312.16px">18</div>
<div class="n" style="left:362.7px;width:18px;top:312.16px">21</div>
<div class="n" style="left:381.7px;width:18px;top:312.16px">26</div>
<div class="n" style="left:400.7px;width:18px;top:312.16px">38</div>
<div class="n" style="left:419.7px;width:18px;top:312.16px">43</div>
<div class="n" style="left:438.7px;width:18px;top:312.16px">29</div>
<div class="n d" style="left:457.7px;width:95px;top:312.16px">10<span>월</span> 07<span>일</span></div>
<div class="n" style="left:297.7px;width:26px;top:325.12px">572</div>
<div class="n" style="left:324.7px;width:18px;top:325.12px">3</div>
<div class="n" style="left:343.7px;width:18px;top:325.12px">13</div>
<div class="n" style="left:362.7px;width:18px;top:325.12px">18</div>
<div class="n" style="left:381.7px;width:18px;top:325.12px">33</div>
<div class="n" style="left:400.7px;width:18px;top:325.12px">37</div>
<div class="n" style="left:419.7px;width:18px;color:#241a5c;top:325.12px">45</div>
<div class="n" style="left:438.7px;width:18px;top:325.12px">1</div>
<div class="n d" style="left:457.7px;width:95px;top:325.12px">10<span>월</span> 14<span>일</span></div>
<div class="n" style="left:297.7px;width:26px;top:338.09px">573</div>
<div class="n" style="left:324.7px;width:18px;top:338.09px">2</div>
<div class="n" style="left:343.7px;width:18px;top:338.09px">4</div>
<div class="n" style="left:362.7px;width:18px;color:#0a520a;top:338.09px">20</div>
<div class="n" style="left:381.7px;width:18px;top:338.09px">34</div>
<div class="n" style="left:400.7px;width:18px;top:338.09px">35</div>
<div class="n" style="left:419.7px;width:18px;top:338.09px">43</div>
<div class="n" style="left:438.7px;width:18px;top:338.09px">14</div>
<div class="n d" style="left:457.7px;width:95px;top:338.09px">10<span>월</span> 21<span>일</span></div>
<div class="n" style="left:297.7px;width:26px;top:351.06px">574</div>
<div class="n" style="left:324.7px;width:18px;top:351.06px">14</div>
<div class="n" style="left:343.7px;width:18px;top:351.06px">15</div>
<div class="n" style="left:362.7px;width:18px;top:351.06px">16</div>
<div class="n" style="left:381.7px;width:18px;top:351.06px">19</div>
<div class="n" style="left:400.7px;width:18px;top:351.06px">25</div>
<div class="n" style="left:419.7px;width:18px;top:351.06px">43</div>
<div class="n" style="left:438.7px;width:18px;top:351.06px">2</div>
<div class="n d" style="left:457.7px;width:95px;top:351.06px">10<span>월</span> 28<span>일</span></div>
<div class="n" style="left:297.7px;width:26px;top:364.02px">575</div>
<div class="n" style="left:324.7px;width:18px;top:364.02px">2</div>
<div class="n" style="left:343.7px;width:18px;top:364.02px">8</div>
<div class="n" style="left:362.7px;width:18px;top:364.02px">20</div>
<div class="n" style="left:381.7px;width:18px;top:364.02px">30</div>
<div class="n" style="left:400.7px;width:18px;top:364.02px">33</div>
<div class="n" style="left:419.7px;width:18px;top:364.02px">34</div>
<div class="n" style="left:438.7px;width:18px;top:364.02px">6</div>
<div class="n d" style="left:457.7px;width:95px;top:364.02px">11<span>월</span> 05<span>일</span></div>
<div class="n" style="left:297.7px;width:26px;top:376.99px">576</div>
<div class="n" style="left:324.7px;width:18px;top:376.99px">10</div>
<div class="n" style="left:343.7px;width:18px;color:#5e3600;top:376.99px">11</div>
<div class="n" style="left:362.7px;width:18px;top:376.99px">15</div>
<div class="n" style="left:381.7px;width:18px;top:376.99px">25</div>
<div class="n" style="left:400.7px;width:18px;top:376.99px">35</div>
<div class="n" style="left:419.7px;width:18px;color:#0a520a;top:376.99px">41</div>
<div class="n" style="left:438.7px;width:18px;top:376.99px">13</div>
<div class="n d" style="left:457.7px;width:95px;top:376.99px">11<span>월</span> 12<span>일</span></div>
<div class="n" style="left:553.7px;width:39px;top:376.99px">11</div>
<div class="n" style="left:297.7px;width:26px;top:389.95px">577</div>
<div class="n d" style="left:457.7px;width:95px;top:389.95px">11<span>월</span> 19<span>일</span></div>
<div class="n k" style="left:162px;width:95px;top:443.00px">월</div>
<div class="n k" style="left:162px;width:95px;top:456.00px">월끝수</div>
<div class="n k" style="left:162px;width:95px;top:469.00px">일</div>
<div class="n k" style="left:162px;width:95px;top:482.00px">일끝수</div>
<div class="n k" style="left:458px;width:95px;top:443.00px">월</div>
<div class="n k" style="left:458px;width:95px;top:456.00px">월끝수</div>
<div class="n k" style="left:458px;width:95px;top:469.00px">일</div>
<div class="n k" style="left:458px;width:95px;top:482.00px">일끝수</div>
<div class="n k" style="left:299.2px;width:40px;top:443.00px;text-align:left">미출</div>
</div>
</body></html>
